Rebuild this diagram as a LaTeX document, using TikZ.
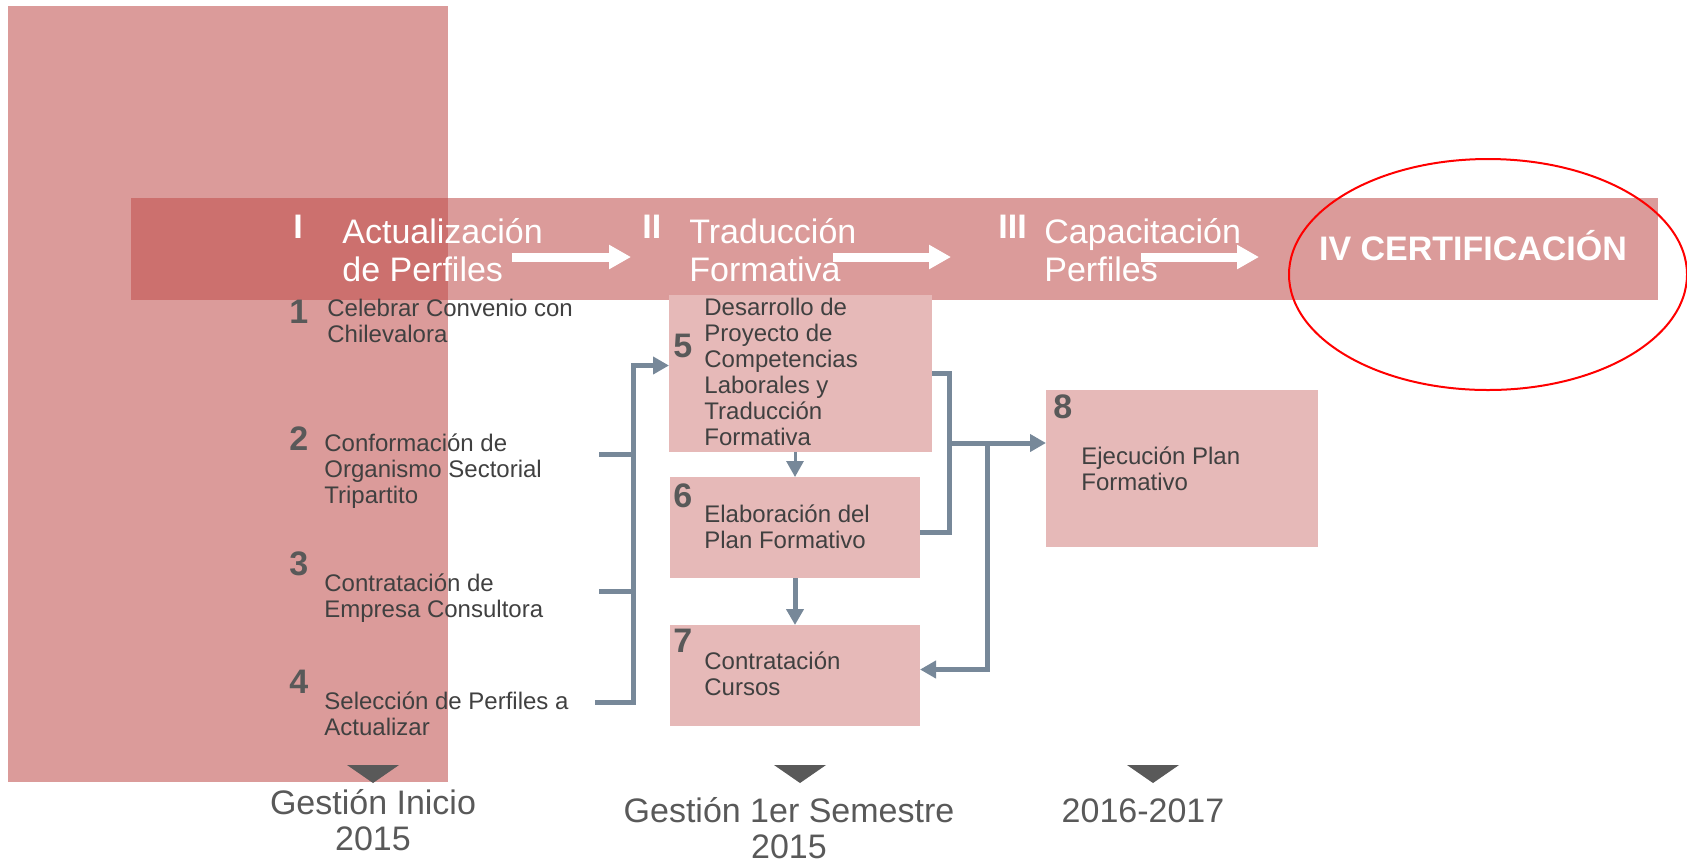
\documentclass[tikz,border=0pt]{standalone}
\usepackage{fontspec}
\setmainfont{Liberation Sans}
\usepackage{tikz}
\usetikzlibrary{arrows.meta,calc}
\definecolor{accent-red}{HTML}{C0504D}
\definecolor{box-pink}{HTML}{E6B9B8}
\definecolor{link-gray}{HTML}{778899}
\definecolor{text-gray}{HTML}{404040}
\definecolor{num-gray}{HTML}{595959}

\begin{document}
\begin{tikzpicture}[x=0.5pt,y=-0.5pt,
    box/.style={fill=box-pink, inner sep=0pt, outer sep=0pt},
    link/.style={draw=link-gray, line width=2.5pt},
    tip/.style={-{Triangle[length=8pt,width=8.5pt]}},
    whitearrow/.style={draw=white, line width=4.5pt, -{Triangle[length=11pt,width=11.5pt]}}]
    \tikzstyle{every node}=[inner sep=0pt]
    \tikzstyle{phase}=[text=white, font=\fontsize{17}{19}\selectfont, align=left, anchor=base west]
    \tikzstyle{roman}=[text=white, font=\fontsize{17}{19}\selectfont\bfseries, anchor=base west]
    \tikzstyle{task}=[text=text-gray, font=\fontsize{12}{13}\selectfont, align=left, anchor=base west]
    \tikzstyle{numtag}=[text=num-gray, font=\fontsize{17}{17}\selectfont\bfseries, anchor=base west]
    \tikzstyle{period}=[text=num-gray, font=\fontsize{17}{18}\selectfont, align=center, anchor=base]

    \useasboundingbox (0,0) rectangle (1687,864);

    % band and left column
    \fill[accent-red, fill opacity=0.57] (131,198) rectangle (1658,300);
    \fill[accent-red, fill opacity=0.57] (8,6) rectangle (448,782);
    \draw[red, line width=1pt] (1488,274.5) ellipse [x radius=199, y radius=115.5];

    % boxes
    \node[box, minimum width=131.5pt, minimum height=78.5pt] (box5) at (800.5,373.5) {};
    \node[box, minimum width=125pt, minimum height=50.5pt] (box6) at (795,527.5) {};
    \node[box, minimum width=125pt, minimum height=50.5pt] (box7) at (795,675.5) {};
    \node[box, minimum width=136pt, minimum height=78.5pt] (box8) at (1182,468.5) {};

    % phases (multi-line nodes sit on their last baseline)
    \node[roman] (r1) at (293,238) {I};
    \node[phase] (ph1) at (342,281) {Actualización\\de Perfiles};
    \node[roman] (r2) at (642,238) {II};
    \node[phase] (ph2) at (689,281) {Traducción\\Formativa};
    \node[roman] (r3) at (998,238) {III};
    \node[phase] (ph3) at (1044,281) {Capacitación\\Perfiles};
    \node[text=white, font=\fontsize{17}{19}\selectfont\bfseries, anchor=base] (ph4) at (1473,260) {IV CERTIFICACIÓN};

    \coordinate (w1a) at (512,257);
    \coordinate (w1b) at (631,257);
    \coordinate (w2a) at (833,257);
    \coordinate (w2b) at (951,257);
    \coordinate (w3a) at (1141,257);
    \coordinate (w3b) at (1259,257);
    \draw[whitearrow] (w1a) -- (w1b);
    \draw[whitearrow] (w2a) -- (w2b);
    \draw[whitearrow] (w3a) -- (w3b);

    % tasks
    \node[numtag] (n1) at (289,323) {1};
    \node[task] (t1) at (327,342) {Celebrar Convenio con\\Chilevalora};
    \node[numtag] (n2) at (289,450) {2};
    \node[task] (t2) at (324,503) {Conformación de\\Organismo Sectorial\\Tripartito};
    \node[numtag] (n3) at (289,575) {3};
    \node[task] (t3) at (324,617) {Contratación de\\Empresa Consultora};
    \node[numtag] (n4) at (289,693) {4};
    \node[task] (t4) at (324,735) {Selección de Perfiles a\\Actualizar};

    \node[numtag] (n5) at (673,357) {5};
    \node[task] (t5) at (704,445) {Desarrollo de\\Proyecto de\\Competencias\\Laborales y\\Traducción\\Formativa};
    \node[numtag] (n6) at (673,507) {6};
    \node[task] (t6) at (704,548) {Elaboración del\\Plan Formativo};
    \node[numtag] (n7) at (673,652) {7};
    \node[task] (t7) at (704,695) {Contratación\\Cursos};
    \node[numtag] (n8) at (1053,418) {8};
    \node[task] (t8) at (1081,490) {Ejecución Plan\\Formativo};

    % links
    \coordinate (s2) at (599,454);
    \coordinate (s3) at (599,591);
    \coordinate (s4) at (595,702);
    \coordinate (jl) at (633,454);
    \draw[link] (s2) -- (jl);
    \draw[link] (s3) -- (s3 -| jl);
    \draw[link, tip] (s4) -| (jl) |- ([yshift=4pt]box5.west);

    \draw[draw=link-gray, line width=1.5pt, tip] (box6.north |- box5.south) -- (box6.north);
    \draw[link, tip] (box6.south) -- (box7.north);

    \coordinate (jr) at (949,443);
    \coordinate (jm) at (987,443);
    \draw[link] (box5.east) -| (jr) |- ([yshift=-2.5pt]box6.east);
    \draw[link, tip] (jr) -- (jr -| box8.west);
    \draw[link, tip] (jm) |- ([yshift=3pt]box7.east);

    % periods
    \fill[num-gray] (347,765) -- (399,765) -- (373,783) -- cycle;
    \fill[num-gray] (774,765) -- (826,765) -- (800,783) -- cycle;
    \fill[num-gray] (1127,765) -- (1179,765) -- (1153,783) -- cycle;
    \node[period] (p1) at (373,850) {Gestión Inicio\\2015};
    \node[period] (p2) at (789,858) {Gestión 1er Semestre\\2015};
    \node[period] (p3) at (1143,822) {2016-2017};
\end{tikzpicture}
\end{document}
